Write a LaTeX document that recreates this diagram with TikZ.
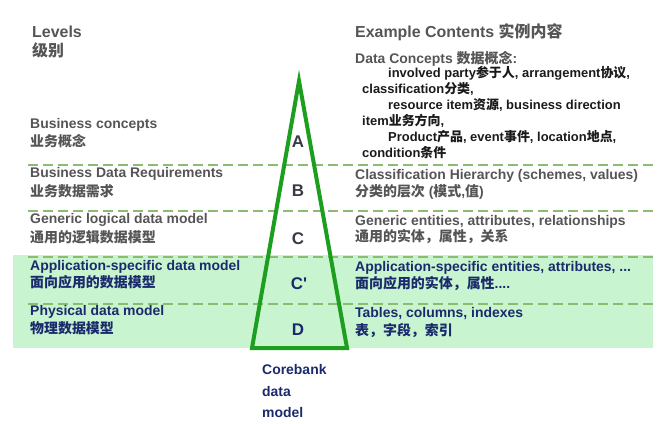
\documentclass[tikz,border=0pt]{standalone}
\usepackage{fontspec}
\setmainfont{Liberation Sans}
\newfontfamily\cjk{Noto Sans CJK SC}
\newcommand{\zh}[1]{{\cjk #1}}
\definecolor{levelgray}{HTML}{555555}
\definecolor{itemblack}{HTML}{1A1A1A}
\definecolor{modelnavy}{HTML}{1A2A6C}
\definecolor{letterdark}{HTML}{3A3A44}
\definecolor{pyramidgreen}{HTML}{1E9E1E}
\definecolor{bandgreen}{HTML}{C8F5D0}
\definecolor{dashgreen}{HTML}{8DBB70}

\begin{document}
\begin{tikzpicture}[x=1bp,y=-1bp,
    every node/.style={inner sep=0,anchor=base west},
    headtext/.style={font=\bfseries\fontsize{16}{18}\selectfont,text=levelgray},
    leveltext/.style={font=\bfseries\fontsize{14}{16}\selectfont,text=levelgray},
    itemtext/.style={font=\bfseries\fontsize{13}{15}\selectfont,text=itemblack},
    modeltext/.style={font=\bfseries\fontsize{14}{16}\selectfont,text=modelnavy},
    letterbox/.style={anchor=center,font=\bfseries\fontsize{17}{19}\selectfont,text=letterdark},
    divider/.style={dashgreen,line width=2.5bp,dash pattern=on 10bp off 5bp}]
    \pgfmathsetmacro{\leftx}{30}
    \pgfmathsetmacro{\rightx}{355}
    \pgfmathsetmacro{\itemx}{388}
    \pgfmathsetmacro{\wrapx}{362}
    \useasboundingbox (0,0) rectangle (670,423);
    % green band for the physical side
    \fill[bandgreen] (13,255) rectangle (653,348);
    \foreach \yy in {165,211,257,304}
        \draw[divider] (28,\yy) -- (655,\yy);
    % pyramid
    \coordinate (apex) at (299,81);
    \coordinate (baseL) at (252,348);
    \coordinate (baseR) at (347,348);
    \draw[pyramidgreen,line width=4bp,line join=miter] (apex) -- (baseL) -- (baseR) -- cycle;
    \node[letterbox] (lA) at (298,142) {A};
    \node[letterbox] (lB) at (298,191) {B};
    \node[letterbox] (lC) at (298,238.5) {C};
    \node[letterbox,text=modelnavy] (lCp) at (299,284) {C\textquotesingle};
    \node[letterbox,text=modelnavy] (lD) at (298,330) {D};
    \node[modeltext] (cb1) at (262,374) {Corebank};
    \node[modeltext] (cb2) at (262,396) {data};
    \node[modeltext] (cb3) at (262,417) {model};
    % levels
    \node[headtext] (lvhead) at (32,37) {Levels};
    \node[headtext] (lvheadzh) at (32,56) {\zh{级别}};
    \node[leveltext] (lvA) at (\leftx,128) {Business concepts};
    \node[leveltext] (lvAzh) at (\leftx,146) {\zh{业务概念}};
    \node[leveltext] (lvB) at (\leftx,177) {Business Data Requirements};
    \node[leveltext] (lvBzh) at (\leftx,196) {\zh{业务数据需求}};
    \node[leveltext] (lvC) at (\leftx,223) {Generic logical data model};
    \node[leveltext] (lvCzh) at (\leftx,242) {\zh{通用的逻辑数据模型}};
    \node[modeltext] (lvCp) at (\leftx,270) {Application-specific data model};
    \node[modeltext] (lvCpzh) at (\leftx,287) {\zh{面向应用的数据模型}};
    \node[modeltext] (lvD) at (\leftx,315) {Physical data model};
    \node[modeltext] (lvDzh) at (\leftx,333) {\zh{物理数据模型}};
    % example contents
    \node[headtext] (exhead) at (\rightx,37) {Example Contents \zh{实例内容}};
    \node[leveltext] (exA) at (\rightx,63) {Data Concepts \zh{数据概念}:};
    \node[itemtext] (exA1) at (\itemx,77) {involved party\zh{参于人}, arrangement\zh{协议},};
    \node[itemtext] (exA2) at (\wrapx,93) {classification\zh{分类},};
    \node[itemtext] (exA3) at (\itemx,109) {resource item\zh{资源}, business direction};
    \node[itemtext] (exA4) at (\wrapx,125) {item\zh{业务方向},};
    \node[itemtext] (exA5) at (\itemx,141) {Product\zh{产品}, event\zh{事件}, location\zh{地点},};
    \node[itemtext] (exA6) at (\wrapx,157) {condition\zh{条件}};
    \node[leveltext] (exB) at (\rightx,179) {Classification Hierarchy (schemes, values)};
    \node[leveltext] (exBzh) at (\rightx,196) {\zh{分类的层次} (\zh{模式},\zh{值})};
    \node[leveltext] (exC) at (\rightx,225) {Generic entities, attributes, relationships};
    \node[leveltext] (exCzh) at (\rightx,241) {\zh{通用的实体，属性，关系}};
    \node[modeltext] (exCp) at (\rightx,271) {Application-specific entities, attributes, ...};
    \node[modeltext] (exCpzh) at (\rightx,288) {\zh{面向应用的实体，属性}....};
    \node[modeltext] (exD) at (\rightx,317) {Tables, columns, indexes};
    \node[modeltext] (exDzh) at (\rightx,335) {\zh{表，字段，索引}};
\end{tikzpicture}
\end{document}
